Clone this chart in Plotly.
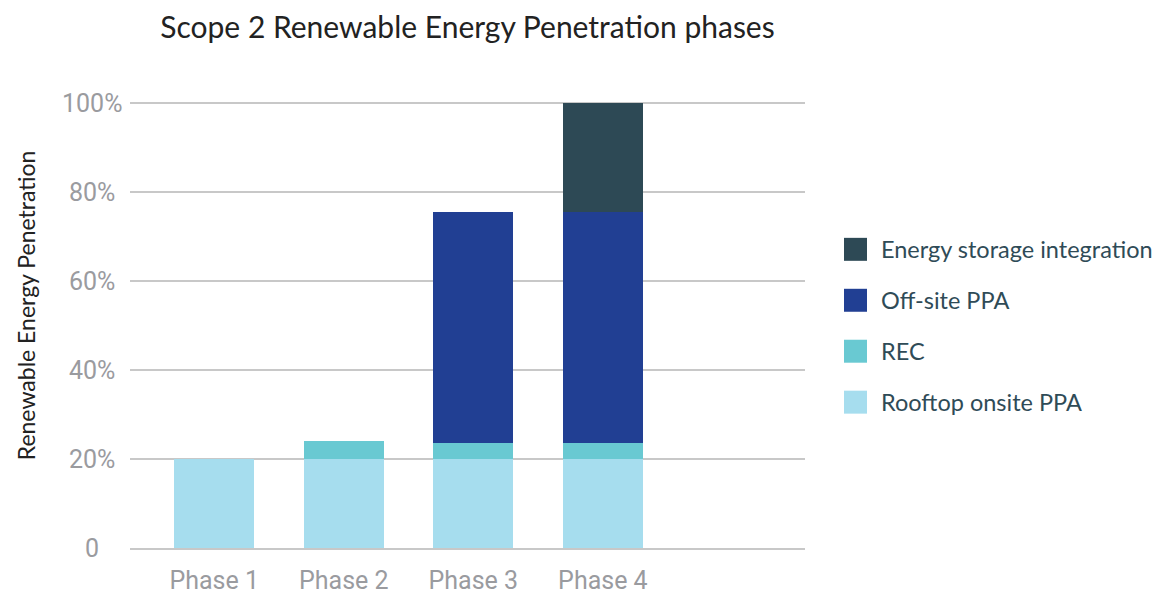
import plotly.graph_objects as go

# Data: share of Scope 2 electricity covered by each renewable source (%)
phases = ["Phase 1", "Phase 2", "Phase 3", "Phase 4"]
rooftop_ppa = [20, 20, 20, 20]
rec = [0, 4, 3.6, 3.6]
offsite_ppa = [0, 0, 52, 52]
storage = [0, 0, 0, 24.4]

y_ticks = [0, 20, 40, 60, 80, 100]
y_tick_labels = ["0", "20%", "40%", "60%", "80%", "100%"]

series = [
    ("Rooftop onsite PPA", rooftop_ppa, "#a6ddee"),
    ("REC", rec, "#69c9d2"),
    ("Off-site PPA", offsite_ppa, "#213f93"),
    ("Energy storage integration", storage, "#2d4955"),
]

TICK_FONT = "Roboto, sans-serif"
TEXT_FONT = "Lato, Open Sans, sans-serif"
TICK_COLOR = "#9a9b9f"

fig = go.Figure()
for name, vals, color in series:
    fig.add_trace(go.Bar(
        x=phases, y=vals, name=name,
        marker=dict(color=color, line=dict(width=0)),
        showlegend=False,
    ))

# plot area geometry in pixels (used to place the custom legend)
W, H = 1160, 598
L, R, T, B = 130, 355, 98.5, 50
pw, ph = W - L - R, H - T - B

def px_x(x):
    return (x - L) / pw

def px_y(y):
    return (H - B - y) / ph

shapes = []
annotations = []
legend_rows = [249, 300, 351, 402]
for (name, _, color), cy in zip(reversed(series), legend_rows):
    shapes.append(dict(
        type="rect", xref="paper", yref="paper",
        x0=px_x(844), x1=px_x(867), y0=px_y(cy + 11.5), y1=px_y(cy - 11.5),
        fillcolor=color, line=dict(width=0),
    ))
    annotations.append(dict(
        xref="paper", yref="paper", x=px_x(879), y=px_y(cy),
        text=name, showarrow=False, xanchor="left", yanchor="middle",
        font=dict(family=TEXT_FONT, size=23.5, color="#2f4b57"),
    ))

# centred y tick labels, positioned on the y scale
for v, lab in zip(y_ticks, y_tick_labels):
    annotations.append(dict(
        xref="paper", yref="y", x=px_x(92), y=v,
        text=lab, showarrow=False, xanchor="center", yanchor="middle",
        font=dict(family=TICK_FONT, size=25, color=TICK_COLOR),
    ))

annotations.append(dict(
    xref="paper", yref="paper", x=px_x(26), y=px_y(305),
    text="Renewable Energy Penetration", textangle=-90, showarrow=False,
    xanchor="center", yanchor="middle",
    font=dict(family=TEXT_FONT, size=23, color="#222222"),
))

fig.update_layout(
    width=W, height=H,
    margin=dict(l=L, r=R, t=T, b=B, autoexpand=False),
    paper_bgcolor="white", plot_bgcolor="white",
    barmode="stack", bargap=0.383,
    title=dict(
        text="Scope 2 Renewable Energy Penetration phases",
        x=0.5, xref="paper", xanchor="center", y=1 - 27 / H, yanchor="middle",
        font=dict(family=TEXT_FONT, size=30, color="#222222"),
    ),
    shapes=shapes,
    annotations=annotations,
    xaxis=dict(
        type="category", range=[-0.65, 4.56],
        showgrid=False, showline=True, linecolor="#c8c8c8", linewidth=1.5,
        ticks="outside", ticklen=9, tickcolor="rgba(0,0,0,0)",
        tickfont=dict(family=TICK_FONT, size=25, color=TICK_COLOR),
    ),
    yaxis=dict(
        range=[0, 101], tickvals=y_ticks, showticklabels=False,
        showgrid=True, gridcolor="#c8c8c8", gridwidth=1.5, zeroline=False,
    ),
)

fig.write_html("out.html")
